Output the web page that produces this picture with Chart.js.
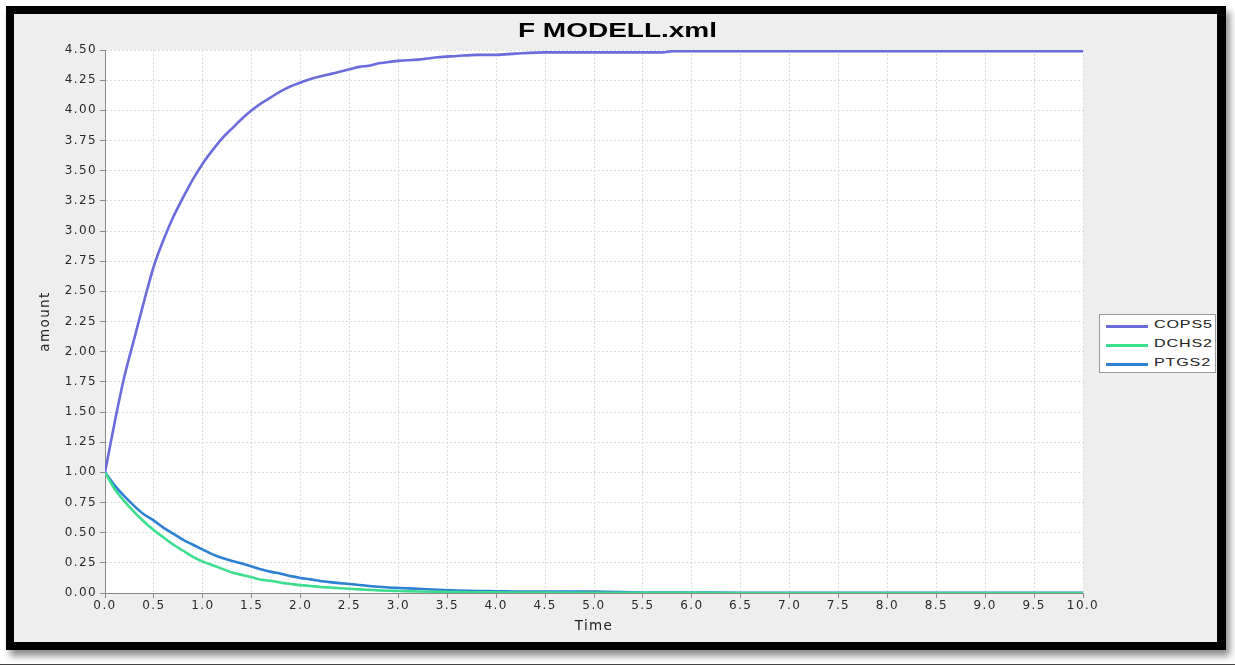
<!DOCTYPE html>
<html>
<head>
<meta charset="utf-8">
<script src="https://cdn.jsdelivr.net/npm/chart.js@4.4.1/dist/chart.umd.min.js"></script>
<style>
  html, body { margin: 0; padding: 0; background: #ffffff; }
  body { width: 1235px; height: 666px; position: relative; overflow: hidden; }
  #frame {
    position: absolute; left: 6px; top: 6px;
    width: 1203px; height: 628px;
    border-style: solid; border-color: #000;
    border-width: 8px 9px 8px 8px;
    background: #eeeeee;
    box-shadow: 4px 6px 7px rgba(0,0,0,0.45);
  }
  #chartWrap { position: absolute; left: 0; top: 0; width: 1203px; height: 628px; }
  #title {
    position: absolute; left: 0; top: 18px; width: 1235px; text-align: center;
    font: bold 20px "Liberation Sans", Arial, sans-serif; line-height: 24px; color: #000;
    transform: scaleX(1.4); transform-origin: 617.5px 50%;
  }
  #legend {
    position: absolute; left: 1099px; top: 314px; width: 115px; height: 57px;
    border: 1px solid #9a9a9a; background: #ffffff;
  }
  .item { position: absolute; left: 0; height: 16px; width: 115px; }
  .swatch { position: absolute; left: 6px; top: 7px; width: 42px; height: 3px; }
  .lbl {
    position: absolute; left: 54px; top: 0; line-height: 16px;
    font: 11.5px "Liberation Sans", Arial, sans-serif; color: #222; letter-spacing: 0.6px;
    transform: scaleX(1.4); transform-origin: 0 50%; white-space: nowrap;
  }
  #baseLine { position: absolute; left: 0; top: 664px; width: 1235px; height: 1px; background: #444; }
</style>
</head>
<body>
<div id="frame"><div id="chartWrap"><canvas id="c" width="1203" height="628"></canvas></div></div>
<div id="title">F MODELL.xml</div>
<div id="legend"></div>
<div id="baseLine"></div>
<script>
// ---- data ----
const times = [0,0.1,0.2,0.3,0.4,0.5,0.6,0.7,0.8,0.9,1.0,1.1,1.2,1.3,1.4,1.5,1.6,1.7,1.8,1.9,2.0,
               2.1,2.2,2.3,2.4,2.5,2.6,2.7,2.8,2.9,3.0,3.2,3.4,3.6,3.8,4.0,4.2,4.5,5.0,5.5,5.7,5.8,6.0,7.0,8.0,9.0,10.0];
const cops5 = [1.00,1.42,1.80,2.11,2.42,2.71,2.93,3.12,3.28,3.43,3.56,3.67,3.77,3.85,3.93,4.00,4.06,4.11,4.16,4.20,4.23,
               4.26,4.28,4.30,4.32,4.34,4.36,4.37,4.39,4.40,4.41,4.42,4.44,4.45,4.46,4.46,4.47,4.48,4.48,4.48,4.48,4.49,4.49,4.49,4.49,4.49,4.49];
const dchs2 = [1.00,0.86,0.76,0.67,0.59,0.52,0.46,0.40,0.35,0.30,0.26,0.23,0.20,0.17,0.15,0.13,0.11,0.10,0.085,0.075,0.065,
               0.058,0.050,0.045,0.040,0.035,0.030,0.026,0.022,0.019,0.017,0.013,0.010,0.007,0.006,0.005,0.004,0.003,0.002,0.001,0.001,0.001,0.001,0,0,0,0];
const ptgs2 = [1.00,0.89,0.80,0.72,0.65,0.60,0.54,0.49,0.44,0.40,0.36,0.32,0.29,0.265,0.245,0.22,0.195,0.175,0.16,0.14,0.125,
               0.113,0.10,0.09,0.082,0.075,0.066,0.058,0.052,0.046,0.042,0.035,0.027,0.021,0.017,0.015,0.013,0.012,0.011,0.004,0.003,0.003,0.003,0.002,0.001,0.001,0.001];
const seriesNames = ['COPS5','DCHS2','PTGS2'];
const seriesColors = ['#6b6bdc','#3ede8f','#2e80d2'];
const xTickLabels = ['0.0','0.5','1.0','1.5','2.0','2.5','3.0','3.5','4.0','4.5','5.0','5.5','6.0','6.5','7.0','7.5','8.0','8.5','9.0','9.5','10.0'];
const yTickLabels = ['0.00','0.25','0.50','0.75','1.00','1.25','1.50','1.75','2.00','2.25','2.50','2.75','3.00','3.25','3.50','3.75','4.00','4.25','4.50'];

const seriesValues = [cops5, dchs2, ptgs2];
const datasets = seriesNames.map((n, i) => ({
  label: n,
  data: times.map((t, k) => ({ x: t, y: seriesValues[i][k] })),
  borderColor: seriesColors[i],
  backgroundColor: seriesColors[i],
  borderWidth: 2.6,
  pointRadius: 0,
  cubicInterpolationMode: 'monotone',
  fill: false
}));

const spacing = {
  id: 'spacing',
  beforeUpdate(c) { c.ctx.letterSpacing = '1.4px'; },
  beforeLayout(c) { c.ctx.letterSpacing = '1.4px'; },
  beforeDraw(c) {
    const ctx = c.ctx, a = c.chartArea;
    ctx.save();
    ctx.fillStyle = '#ffffff';
    ctx.fillRect(a.left, a.top, a.right - a.left, a.bottom - a.top);
    ctx.restore();
    ctx.letterSpacing = '1.4px';
  }
};

const tickFont = { family: '"DejaVu Sans", sans-serif', size: 12 };
const gridCommon = {
  color: '#dcdcdc', lineWidth: 1,
  drawTicks: true, tickLength: 5, tickColor: '#888', tickWidth: 1, tickBorderDash: []
};
const borderCommon = { display: true, color: '#888', width: 1, dash: [2, 2] };

const chart = new Chart(document.getElementById('c'), {
  type: 'line',
  data: { datasets },
  options: {
    responsive: false, animation: false, devicePixelRatio: 1,
    layout: { padding: { top: 36, right: 134, left: 0, bottom: 0 } },
    plugins: { legend: { display: false }, title: { display: false }, tooltip: { enabled: false } },
    scales: {
      x: {
        type: 'linear', min: 0, max: 10,
        ticks: {
          stepSize: 0.5, autoSkip: false, maxRotation: 0, color: '#2a2a2a', font: tickFont, padding: 1,
          callback: (v) => xTickLabels[Math.round(v / 0.5)]
        },
        grid: gridCommon,
        border: borderCommon,
        title: { display: true, text: 'Time', color: '#222',
                 font: { family: '"DejaVu Sans", sans-serif', size: 13.5 }, padding: { top: 0, bottom: 7 } },
        afterFit: (s) => { s.height = 49; }
      },
      y: {
        type: 'linear', min: 0, max: 4.5,
        ticks: {
          stepSize: 0.25, autoSkip: false, color: '#2a2a2a', font: tickFont, padding: 3,
          callback: (v) => yTickLabels[Math.round(v / 0.25)]
        },
        grid: gridCommon,
        border: borderCommon,
        title: { display: true, text: 'amount', color: '#222',
                 font: { family: '"DejaVu Sans", sans-serif', size: 13.5 }, padding: { top: 23, bottom: 0 } },
        afterFit: (s) => { s.width = 91; }
      }
    }
  },
  plugins: [spacing]
});

// legend built from the chart's datasets
const legend = document.getElementById('legend');
chart.data.datasets.forEach((ds, i) => {
  const item = document.createElement('div');
  item.className = 'item';
  item.style.top = (3 + i * 19) + 'px';
  const sw = document.createElement('div');
  sw.className = 'swatch';
  sw.style.background = ds.borderColor;
  const lb = document.createElement('div');
  lb.className = 'lbl';
  lb.textContent = ds.label;
  item.appendChild(sw); item.appendChild(lb);
  legend.appendChild(item);
});
</script>
</body>
</html>
